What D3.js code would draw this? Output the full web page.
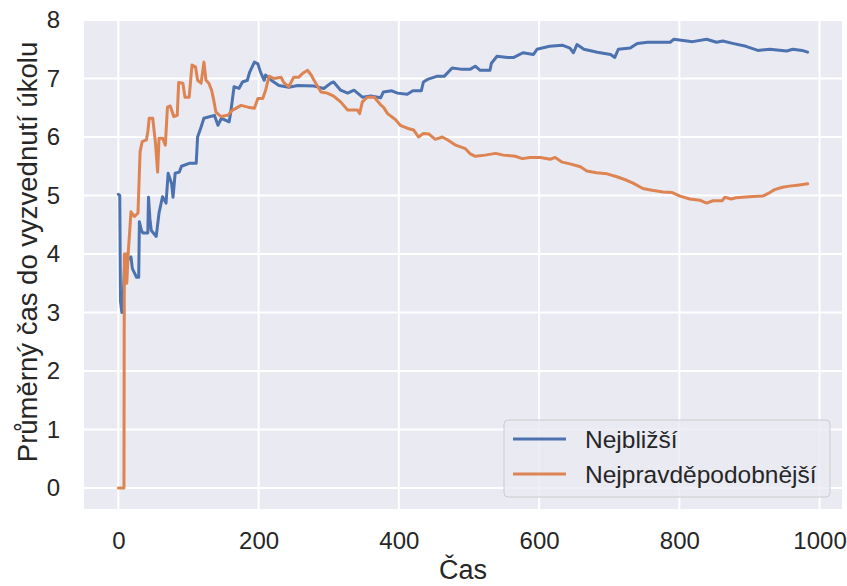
<!DOCTYPE html>
<html>
<head>
<meta charset="utf-8">
<script src="https://cdn.jsdelivr.net/npm/d3@7"></script>
<style>
  body { margin: 0; background: #fff; }
  text { font-family: "Liberation Sans", Arial, sans-serif; fill: #262626; }
</style>
</head>
<body>
<div id="chart"></div>
<script>
// Running average time to pick-up as [time, value]
const nearest = [[0,5.02],[2,5.0],[3,3.2],[5,3.0],[7,3.3],[9,3.85],[18,3.95],[20,3.75],[26,3.6],[29,3.6],[30,4.55],[33,4.4],[35,4.36],[42,4.36],[43,4.97],[45,4.6],[47,4.4],[54,4.3],[58,4.7],[63,4.98],[68,4.87],[71,5.38],[76,5.2],[78,4.97],[81,5.38],[87,5.4],[90,5.5],[101,5.55],[111,5.55],[113,6.0],[118,6.17],[122,6.32],[137,6.37],[142,6.2],[147,6.32],[158,6.26],[160,6.4],[165,6.86],[172,6.83],[177,6.94],[184,6.97],[187,7.1],[194,7.28],[199,7.25],[203,7.1],[208,6.97],[210,7.06],[218,6.97],[229,6.88],[243,6.85],[256,6.88],[279,6.87],[293,6.83],[303,6.92],[307,6.94],[317,6.8],[327,6.75],[336,6.8],[348,6.68],[360,6.7],[374,6.67],[378,6.77],[390,6.79],[398,6.75],[412,6.73],[420,6.79],[432,6.79],[435,6.94],[442,6.99],[455,7.04],[465,7.04],[476,7.18],[488,7.16],[502,7.16],[509,7.21],[516,7.14],[530,7.14],[532,7.26],[540,7.38],[555,7.36],[564,7.36],[577,7.44],[592,7.41],[597,7.5],[615,7.55],[633,7.57],[644,7.52],[649,7.44],[654,7.58],[664,7.5],[683,7.45],[702,7.41],[708,7.36],[713,7.5],[730,7.52],[740,7.6],[755,7.62],[787,7.62],[792,7.67],[819,7.63],[839,7.67],[853,7.62],[862,7.64],[876,7.6],[895,7.55],[912,7.48],[929,7.5],[953,7.47],[962,7.5],[975,7.48],[983,7.45]];

const likely = [[0,0],[8,0],[8.5,4.0],[11,4.0],[12,3.5],[14,4.0],[18,4.72],[23,4.64],[28,4.7],[31,5.75],[34,5.92],[40,5.95],[42,6.09],[44,6.32],[49,6.32],[53,5.89],[56,5.4],[58,5.98],[63,5.98],[67,5.86],[70,6.51],[74,6.53],[79,6.35],[84,6.37],[86,6.93],[92,6.92],[95,6.68],[101,6.68],[105,7.23],[110,7.2],[113,6.97],[118,6.92],[122,7.28],[125,6.97],[129,6.92],[133,6.8],[136,6.63],[139,6.43],[146,6.35],[156,6.37],[163,6.46],[175,6.54],[185,6.51],[194,6.49],[199,6.66],[206,6.66],[210,6.8],[215,7.04],[222,7.0],[232,7.02],[236,6.93],[243,6.86],[250,7.02],[257,7.02],[263,7.09],[270,7.14],[275,7.06],[279,6.97],[289,6.77],[298,6.75],[307,6.7],[317,6.6],[327,6.46],[341,6.46],[344,6.4],[348,6.6],[355,6.68],[365,6.68],[374,6.55],[378,6.51],[384,6.4],[395,6.3],[402,6.2],[412,6.15],[421,6.12],[428,6.0],[435,6.06],[443,6.05],[452,5.96],[462,6.0],[471,5.94],[481,5.86],[495,5.8],[502,5.71],[509,5.67],[523,5.69],[538,5.72],[549,5.69],[566,5.67],[576,5.63],[587,5.65],[602,5.65],[616,5.62],[623,5.65],[633,5.57],[644,5.54],[659,5.49],[668,5.42],[682,5.39],[697,5.37],[711,5.32],[725,5.26],[734,5.21],[748,5.12],[761,5.09],[777,5.06],[790,5.05],[801,4.99],[815,4.94],[829,4.92],[839,4.87],[848,4.91],[861,4.91],[865,4.97],[874,4.94],[881,4.96],[900,4.98],[919,4.99],[929,5.05],[936,5.1],[947,5.14],[957,5.16],[971,5.18],[983,5.2]];

const seriesNames = ["Nejbližší", "Nejpravděpodobnější"];
const seriesColors = ["#4C72B0", "#DD8452"];
const xTicks = [0, 200, 400, 600, 800, 1000];
const yTicks = [0, 1, 2, 3, 4, 5, 6, 7, 8];

const width = 847, height = 586;
const m = { left: 84, right: 5, top: 20, bottom: 77 };

const svg = d3.select("#chart").append("svg")
    .attr("width", width)
    .attr("height", height);

const x = d3.scaleLinear().domain([-49, 1032]).range([m.left, width - m.right]);
const y = d3.scaleLinear().domain([-0.36, 8]).range([height - m.bottom, m.top]);

// Plot background (seaborn darkgrid)
svg.append("rect")
    .attr("x", m.left).attr("y", m.top)
    .attr("width", width - m.left - m.right)
    .attr("height", height - m.top - m.bottom)
    .attr("fill", "#EAEAF2");

// Grid
svg.append("g").selectAll("line").data(xTicks).join("line")
    .attr("x1", d => x(d)).attr("x2", d => x(d))
    .attr("y1", m.top).attr("y2", height - m.bottom)
    .attr("stroke", "#fff").attr("stroke-width", 2);
svg.append("g").selectAll("line").data(yTicks).join("line")
    .attr("x1", m.left).attr("x2", width - m.right)
    .attr("y1", d => y(d)).attr("y2", d => y(d))
    .attr("stroke", "#fff").attr("stroke-width", 2);

// Axes (labels only, no domain / tick marks)
const xAxis = svg.append("g")
    .attr("transform", `translate(0, ${height - m.bottom})`)
    .call(d3.axisBottom(x).tickValues(xTicks).tickFormat(d3.format("d")).tickSize(0).tickPadding(23));
const yAxis = svg.append("g")
    .attr("transform", `translate(${m.left}, 0)`)
    .call(d3.axisLeft(y).tickValues(yTicks).tickSize(0).tickPadding(24));
[xAxis, yAxis].forEach(g => {
    g.select(".domain").remove();
    g.selectAll("text").attr("font-size", "24px").attr("fill", "#262626")
        .attr("font-family", "Liberation Sans, Arial, sans-serif");
});

// Axis labels
svg.append("text")
    .attr("x", (m.left + width - m.right) / 2)
    .attr("y", 579)
    .attr("text-anchor", "middle")
    .attr("font-size", "27px")
    .text("Čas");

const yLabelX = 37;
const yLabelY = 252;
svg.append("text")
    .attr("x", yLabelX).attr("y", yLabelY)
    .attr("text-anchor", "middle")
    .attr("font-size", "27.5px")
    .attr("transform", `rotate(-90, ${yLabelX}, ${yLabelY})`)
    .text("Průměrný čas do vyzvednutí úkolu");

// Lines
const line = d3.line().x(d => x(d[0])).y(d => y(d[1]));
[nearest, likely].forEach((data, i) => {
    svg.append("path")
        .datum(data)
        .attr("fill", "none")
        .attr("stroke", seriesColors[i])
        .attr("stroke-width", 3)
        .attr("stroke-linejoin", "round")
        .attr("stroke-linecap", "round")
        .attr("d", line);
});

// Legend
const legend = svg.append("g").attr("transform", "translate(504, 420)");
legend.append("rect")
    .attr("width", 326).attr("height", 77)
    .attr("rx", 4)
    .attr("fill", "#EAEAF2").attr("fill-opacity", 0.8)
    .attr("stroke", "#cccccc").attr("stroke-width", 1);
seriesNames.forEach((name, i) => {
    const cy = 19 + i * 35;
    legend.append("line")
        .attr("x1", 9).attr("x2", 62)
        .attr("y1", cy).attr("y2", cy)
        .attr("stroke", seriesColors[i]).attr("stroke-width", 3);
    legend.append("text")
        .attr("x", 81).attr("y", cy)
        .attr("dy", "0.35em")
        .attr("font-size", "24.5px")
        .text(name);
});
</script>
</body>
</html>
